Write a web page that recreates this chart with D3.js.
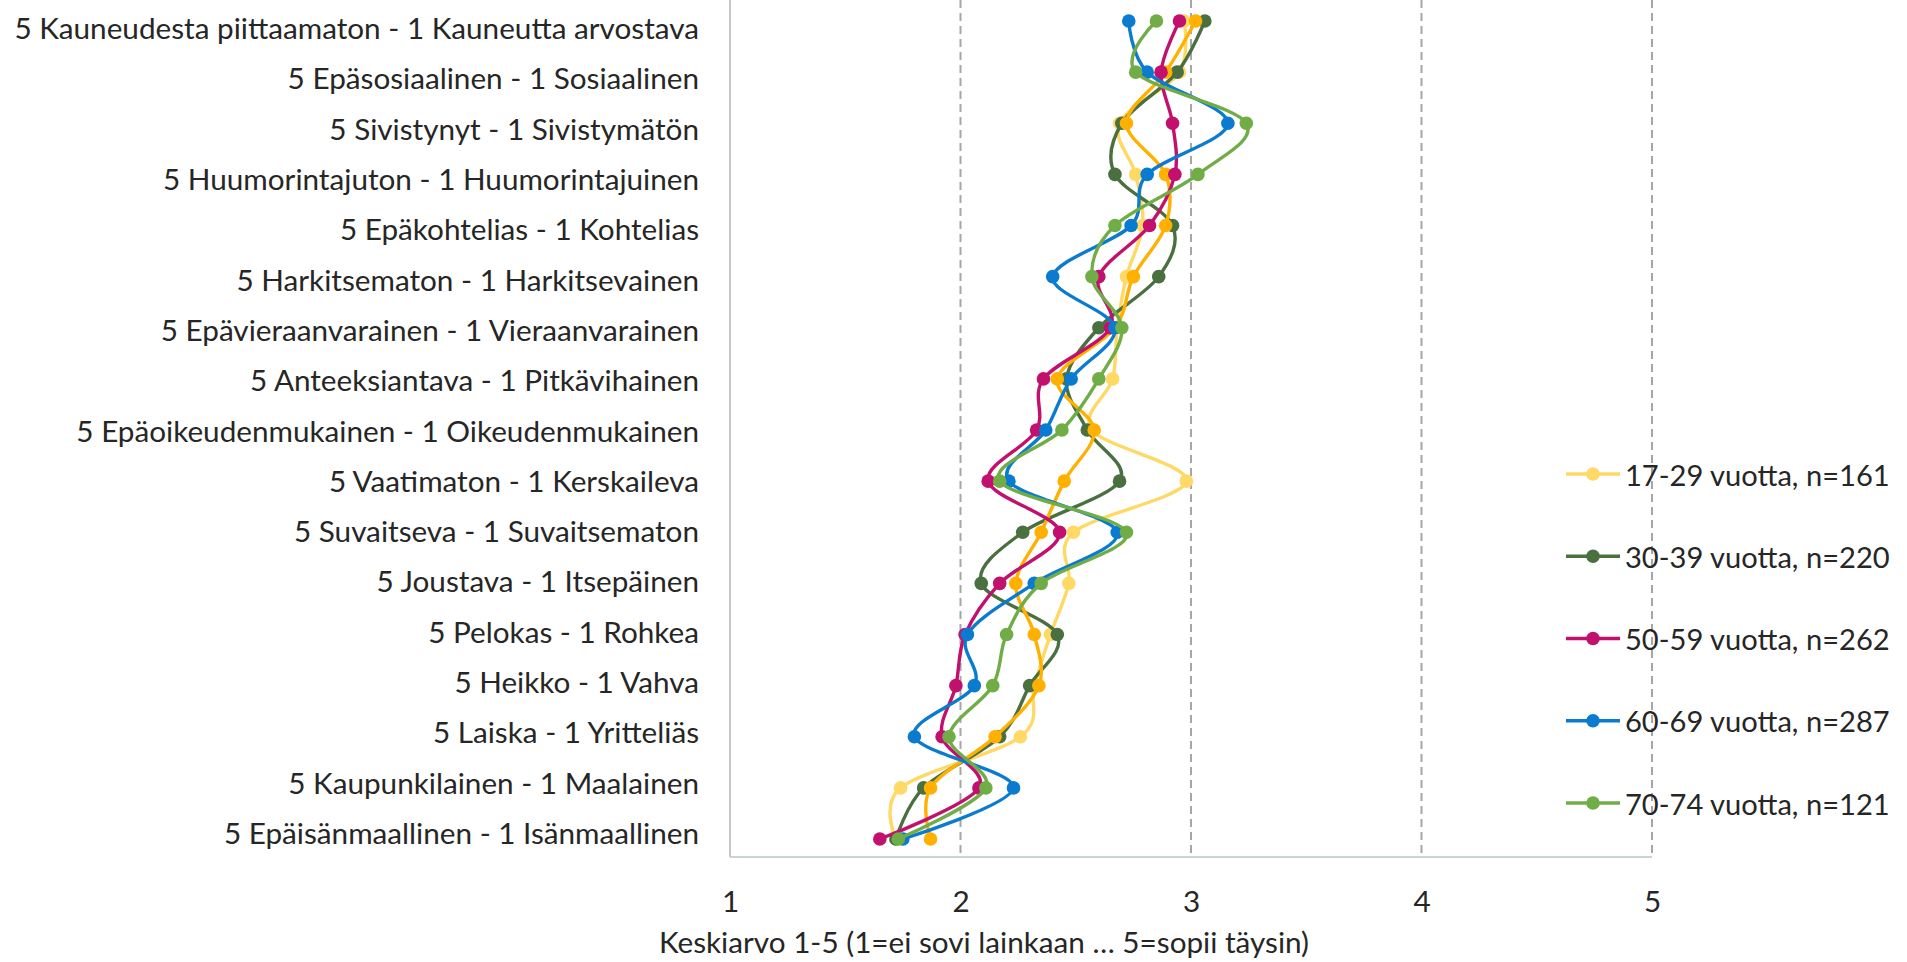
<!DOCTYPE html>
<html>
<head>
<meta charset="utf-8">
<script src="https://cdn.jsdelivr.net/npm/d3@7"></script>
<style>
  html, body { margin: 0; padding: 0; background: #ffffff; }
  svg { display: block; }
  text { font-family: "Lato", "Open Sans", "Noto Sans", sans-serif; fill: #262626; }
</style>
</head>
<body>
<svg id="chart" width="1907" height="962"></svg>
<script>
// ---------------- data ----------------
const categories = [
  "5 Kauneudesta piittaamaton - 1 Kauneutta arvostava",
  "5 Epäsosiaalinen - 1 Sosiaalinen",
  "5 Sivistynyt - 1 Sivistymätön",
  "5 Huumorintajuton - 1 Huumorintajuinen",
  "5 Epäkohtelias - 1 Kohtelias",
  "5 Harkitsematon - 1 Harkitsevainen",
  "5 Epävieraanvarainen - 1 Vieraanvarainen",
  "5 Anteeksiantava - 1 Pitkävihainen",
  "5 Epäoikeudenmukainen - 1 Oikeudenmukainen",
  "5 Vaatimaton - 1 Kerskaileva",
  "5 Suvaitseva - 1 Suvaitsematon",
  "5 Joustava - 1 Itsepäinen",
  "5 Pelokas - 1 Rohkea",
  "5 Heikko - 1 Vahva",
  "5 Laiska - 1 Yritteliäs",
  "5 Kaupunkilainen - 1 Maalainen",
  "5 Epäisänmaallinen - 1 Isänmaallinen"
];

const seriesNames = [
  "17-29 vuotta, n=161",
  "30-39 vuotta, n=220",
  "40-49 vuotta",
  "50-59 vuotta, n=262",
  "60-69 vuotta, n=287",
  "70-74 vuotta, n=121"
];
const inLegend = [true, true, false, true, true, true];

const values1729 = [2.97, 2.95, 2.69, 2.76, 2.79, 2.72, 2.68, 2.66, 2.57, 2.98, 2.49, 2.47, 2.39, 2.32, 2.26, 1.74, 1.72];
const values3039 = [3.06, 2.94, 2.70, 2.67, 2.92, 2.86, 2.60, 2.46, 2.55, 2.69, 2.27, 2.09, 2.42, 2.30, 2.17, 1.84, 1.72];
const values4049 = [3.02, 2.89, 2.72, 2.89, 2.89, 2.75, 2.67, 2.42, 2.58, 2.45, 2.35, 2.24, 2.32, 2.34, 2.15, 1.87, 1.87];
const values5059 = [2.95, 2.87, 2.92, 2.93, 2.82, 2.60, 2.65, 2.36, 2.33, 2.12, 2.43, 2.17, 2.02, 1.98, 1.92, 2.08, 1.65];
const values6069 = [2.73, 2.81, 3.16, 2.81, 2.74, 2.40, 2.67, 2.48, 2.37, 2.21, 2.68, 2.32, 2.03, 2.06, 1.80, 2.23, 1.75];
const values7074 = [2.85, 2.76, 3.24, 3.03, 2.67, 2.57, 2.70, 2.60, 2.44, 2.17, 2.72, 2.35, 2.20, 2.14, 1.95, 2.11, 1.73];

const seriesValues = [values1729, values3039, values4049, values5059, values6069, values7074];
const seriesColors = ["#FFD966", "#4A7040", "#FFB000", "#C2106E", "#0A7BCF", "#70AD47"];

const xTicks = [1, 2, 3, 4, 5];
const xTitle = "Keskiarvo 1-5 (1=ei sovi lainkaan … 5=sopii täysin)";

// ---------------- layout ----------------
const svg = d3.select("#chart");
const plotLeft = 730, plotRight = 1652, plotTop = 0, plotBottom = 857;
const xS = d3.scaleLinear().domain([1, 5]).range([plotLeft, plotRight]);
// points scale
const yS = d3.scaleLinear().domain([0, categories.length - 1]).range([21, 839]);
// category label scale
const yLab = d3.scaleLinear().domain([0, categories.length - 1]).range([27, 832]);
let fontSize = 28;

// gridlines
svg.append("g").selectAll("line")
  .data(xTicks.filter(d => d > 1))
  .join("line")
  .attr("x1", d => xS(d)).attr("x2", d => xS(d))
  .attr("y1", plotTop).attr("y2", plotBottom)
  .attr("stroke", "#A6A6A6").attr("stroke-width", 2)
  .attr("stroke-dasharray", "8,5");

// left axis line
svg.append("line")
  .attr("x1", plotLeft).attr("x2", plotLeft)
  .attr("y1", plotTop).attr("y2", plotBottom)
  .attr("stroke", "#B5B5B5").attr("stroke-width", 1.5);

// bottom axis line
svg.append("line")
  .attr("x1", plotLeft).attr("x2", plotRight)
  .attr("y1", plotBottom).attr("y2", plotBottom)
  .attr("stroke", "#CBD3D6").attr("stroke-width", 2);

// category axis (left)
const yAxisG = svg.append("g")
  .attr("transform", `translate(${plotLeft},0)`)
  .call(d3.axisLeft(yLab)
    .tickValues(d3.range(categories.length))
    .tickFormat(i => categories[i])
    .tickSize(0).tickPadding(31));
yAxisG.select(".domain").remove();
yAxisG.selectAll("text")
  .attr("dy", null)
  .attr("dominant-baseline", "central");
yAxisG.attr("font-family", null).attr("font-size", null);

// x axis tick labels
const xAxisG = svg.append("g")
  .attr("transform", `translate(0,${plotBottom})`)
  .call(d3.axisBottom(xS).tickValues(xTicks).tickFormat(d3.format("d")).tickSize(0));
xAxisG.select(".domain").remove();
xAxisG.selectAll("text")
  .attr("dy", null).attr("y", 43)
  .attr("dominant-baseline", "central");
xAxisG.attr("font-family", null).attr("font-size", null);

// x title
svg.append("text")
  .attr("class", "xtitle")
  .attr("x", 984).attr("y", 941)
  .attr("text-anchor", "middle")
  .attr("dominant-baseline", "central")
  .text(xTitle);

// fit font size to the longest category label (target width ~685px)
svg.selectAll("text").style("font-size", fontSize + "px");
let maxW = 0;
yAxisG.selectAll("text").each(function () { maxW = Math.max(maxW, this.getComputedTextLength()); });
fontSize = fontSize * 685 / maxW;
svg.selectAll("text").style("font-size", fontSize + "px");

// series lines & markers (drawn series by series, like the original)
const line = d3.line()
  .x(d => xS(d))
  .y((d, i) => yS(i))
  .curve(d3.curveCardinal.tension(0));

seriesValues.forEach((vals, si) => {
  const g = svg.append("g").attr("class", "series");
  g.append("path")
    .attr("d", line(vals))
    .attr("fill", "none")
    .attr("stroke", seriesColors[si])
    .attr("stroke-width", 3.4)
    .attr("stroke-linejoin", "round")
    .attr("stroke-linecap", "round");
  g.selectAll("circle")
    .data(vals)
    .join("circle")
    .attr("cx", d => xS(d))
    .attr("cy", (d, i) => yS(i))
    .attr("r", 6.8)
    .attr("fill", seriesColors[si]);
});

// legend
const legendItems = seriesNames.map((n, i) => ({ name: n, color: seriesColors[i], show: inLegend[i] }))
  .filter(d => d.show);
const legY = d3.scaleLinear().domain([0, legendItems.length - 1]).range([474, 803]);
const lg = svg.append("g").selectAll("g")
  .data(legendItems)
  .join("g")
  .attr("transform", (d, i) => `translate(0,${legY(i)})`);
lg.append("line")
  .attr("x1", 1566).attr("x2", 1620).attr("y1", 0).attr("y2", 0)
  .attr("stroke", d => d.color).attr("stroke-width", 3.4);
lg.append("circle")
  .attr("cx", 1593).attr("cy", 0).attr("r", 6.8)
  .attr("fill", d => d.color);
lg.append("text")
  .attr("x", 1625).attr("y", 0)
  .attr("dominant-baseline", "central")
  .style("font-size", (fontSize * 0.98) + "px")
  .text(d => d.name);
</script>
</body>
</html>
